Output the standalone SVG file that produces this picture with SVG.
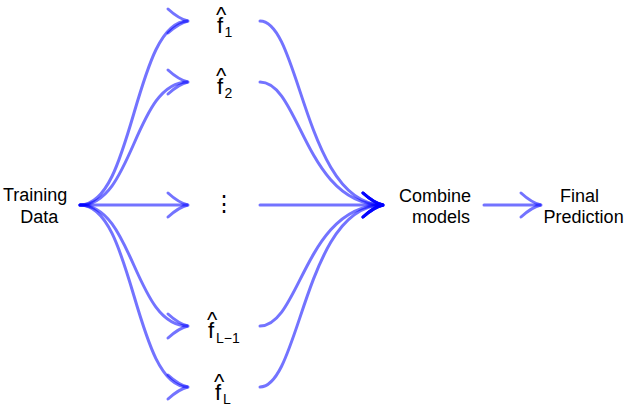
<svg xmlns="http://www.w3.org/2000/svg" width="632" height="412" viewBox="0 0 632 412">
<style>
.e{fill:none;stroke:#0000ff;stroke-opacity:0.55;stroke-width:3;stroke-linecap:round}
.t{font-family:"Liberation Sans",Arial,sans-serif;font-size:18px;fill:#000}
.f{font-family:"Liberation Sans",Arial,sans-serif;font-size:22px;fill:#000}
.s{font-size:14px}
</style>
<defs>
<marker id="ah" markerUnits="userSpaceOnUse" markerWidth="30" markerHeight="30" viewBox="-24 -15 30 30" refX="0" refY="0" orient="auto" overflow="visible">
<path d="M-20,-12 Q-9,-2 0,0 Q-9,2 -20,12" fill="none" stroke="#0000ff" stroke-opacity="0.55" stroke-width="3" stroke-linecap="round"/>
</marker>
</defs>
<g id="connectors">
<path class="e" marker-end="url(#ah)" d="M80,205 C134,205 134,21 188,21"/>
<path class="e" marker-end="url(#ah)" d="M80,205 C134,205 134,82 188,82"/>
<path class="e" marker-end="url(#ah)" d="M80,205 L188,205"/>
<path class="e" marker-end="url(#ah)" d="M80,205 C134,205 134,326 188,326"/>
<path class="e" marker-end="url(#ah)" d="M80,205 C134,205 134,387 188,387"/>
<path class="e" marker-end="url(#ah)" d="M260,21 C300,21 305,205 383,205"/>
<path class="e" marker-end="url(#ah)" d="M260,82 C300,82 305,205 383,205"/>
<path class="e" marker-end="url(#ah)" d="M260,205 L383,205"/>
<path class="e" marker-end="url(#ah)" d="M260,326 C300,326 305,205 383,205"/>
<path class="e" marker-end="url(#ah)" d="M260,387 C300,387 305,205 383,205"/>
<path class="e" marker-end="url(#ah)" d="M484,205 L541,205"/>
</g>
<g id="training"><text class="t" x="3" y="201">Training</text><text class="t" x="20.3" y="223">Data</text></g>
<g id="f1"><text class="f"><tspan x="216" y="22">^</tspan><tspan x="217" y="33">f</tspan><tspan class="s" x="224.5" y="37">1</tspan></text></g>
<g id="f2"><text class="f"><tspan x="216" y="83">^</tspan><tspan x="217" y="94">f</tspan><tspan class="s" x="224.5" y="98">2</tspan></text></g>
<g id="fdots"><text class="f" x="224" y="211" text-anchor="middle">⋮</text></g>
<g id="fL1"><text class="f"><tspan x="207" y="327">^</tspan><tspan x="208" y="338">f</tspan><tspan class="s" x="216" y="343">L−1</tspan></text></g>
<g id="fL"><text class="f"><tspan x="214" y="389">^</tspan><tspan x="215" y="400">f</tspan><tspan class="s" x="223" y="404">L</tspan></text></g>
<g id="combine"><text class="t" x="399" y="202">Combine</text><text class="t" x="412" y="223">models</text></g>
<g id="final"><text class="t" x="560" y="202">Final</text><text class="t" x="543.6" y="223">Prediction</text></g>
</svg>
